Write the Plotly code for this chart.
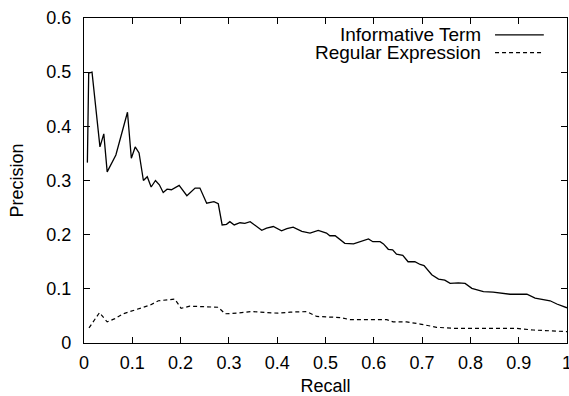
import plotly.graph_objects as go

# Informative Term (solid)
it_recall = [0.007, 0.0097, 0.0166, 0.033, 0.041, 0.048, 0.066, 0.090, 0.098, 0.106,
             0.114, 0.123, 0.131, 0.139, 0.148, 0.156, 0.164, 0.172, 0.181, 0.197,
             0.213, 0.230, 0.240, 0.254, 0.269, 0.278, 0.286, 0.295, 0.302, 0.311,
             0.323, 0.333, 0.344, 0.368, 0.378, 0.392, 0.409, 0.420, 0.433, 0.451,
             0.468, 0.485, 0.502, 0.509, 0.520, 0.540, 0.558, 0.571, 0.589, 0.598,
             0.613, 0.620, 0.630, 0.639, 0.647, 0.660, 0.671, 0.685, 0.696, 0.704,
             0.720, 0.734, 0.747, 0.758, 0.775, 0.789, 0.803, 0.827, 0.847, 0.882,
             0.917, 0.934, 0.965, 0.979, 1.0]
it_precision = [0.333, 0.498, 0.500, 0.362, 0.386, 0.316, 0.347, 0.426, 0.341, 0.362,
                0.351, 0.300, 0.307, 0.288, 0.300, 0.292, 0.278, 0.284, 0.283, 0.291,
                0.272, 0.286, 0.286, 0.258, 0.261, 0.257, 0.218, 0.219, 0.224, 0.218,
                0.222, 0.221, 0.224, 0.208, 0.212, 0.215, 0.207, 0.211, 0.214, 0.206,
                0.203, 0.208, 0.203, 0.198, 0.198, 0.184, 0.183, 0.187, 0.192, 0.187,
                0.187, 0.183, 0.173, 0.172, 0.164, 0.162, 0.150, 0.150, 0.145, 0.143,
                0.126, 0.118, 0.116, 0.110, 0.111, 0.110, 0.101, 0.095, 0.094, 0.090,
                0.090, 0.083, 0.078, 0.072, 0.065]

# Regular Expression (dashed)
re_recall = [0.0104, 0.032, 0.048, 0.064, 0.081, 0.116, 0.137, 0.154, 0.171, 0.188,
             0.201, 0.219, 0.247, 0.278, 0.292, 0.316, 0.347, 0.378, 0.402, 0.427,
             0.461, 0.482, 0.530, 0.551, 0.627, 0.640, 0.668, 0.696, 0.730, 0.765,
             0.896, 0.930, 1.0]
re_precision = [0.028, 0.056, 0.039, 0.045, 0.054, 0.064, 0.070, 0.078, 0.080, 0.081,
                0.064, 0.068, 0.067, 0.066, 0.054, 0.055, 0.058, 0.056, 0.055, 0.057,
                0.058, 0.049, 0.047, 0.043, 0.043, 0.039, 0.039, 0.035, 0.029, 0.027,
                0.027, 0.024, 0.021]

x_ticks = [0, 0.1, 0.2, 0.3, 0.4, 0.5, 0.6, 0.7, 0.8, 0.9, 1]
x_tick_labels = ["0", "0.1", "0.2", "0.3", "0.4", "0.5", "0.6", "0.7", "0.8", "0.9", "1"]
y_ticks = [0, 0.1, 0.2, 0.3, 0.4, 0.5, 0.6]
y_tick_labels = ["0", "0.1", "0.2", "0.3", "0.4", "0.5", "0.6"]

series_names = ["Informative Term", "Regular Expression"]
dash_styles = ["solid", "4px,3px"]

FONT = "Liberation Sans, Arial, sans-serif"
FS = 18
FS_KEY = 19
fig = go.Figure()
fig.add_trace(go.Scatter(x=it_recall, y=it_precision, mode="lines", name=series_names[0],
                         line=dict(color="black", width=1.3, dash=dash_styles[0])))
fig.add_trace(go.Scatter(x=re_recall, y=re_precision, mode="lines", name=series_names[1],
                         line=dict(color="black", width=1.2, dash=dash_styles[1])))

# gnuplot-style key: text right-aligned, sample line on the right
key_rows = [0.569, 0.536]
for name, dash, ky in zip(series_names, dash_styles, key_rows):
    fig.add_annotation(x=0.824, y=ky, xref="x", yref="y", text=name, showarrow=False,
                       xanchor="right", yanchor="middle", borderpad=0,
                       font=dict(size=FS_KEY, color="black", family=FONT))
    fig.add_shape(type="line", xref="x", yref="y", x0=0.851, x1=0.952, y0=ky, y1=ky,
                  line=dict(color="black", width=1.2, dash=dash))

axis_common = dict(showline=True, linecolor="black", linewidth=1.3, mirror="ticks",
                   ticks="inside", ticklen=6, tickcolor="black", tickwidth=1,
                   showgrid=False, zeroline=False, automargin=False,
                   ticklabeloverflow="allow",
                   tickfont=dict(size=FS, color="black", family=FONT))

fig.update_layout(
    width=569, height=396,
    margin=dict(l=84, r=2, t=18, b=53),
    paper_bgcolor="white", plot_bgcolor="white",
    showlegend=False,
    font=dict(family=FONT, size=FS, color="black"),
    xaxis=dict(range=[0, 1], tickvals=x_ticks, ticktext=x_tick_labels,
               title=dict(text="Recall", font=dict(size=FS), standoff=8),
               ticklabelstandoff=3, **axis_common),
    yaxis=dict(range=[0, 0.6], tickvals=y_ticks, ticktext=y_tick_labels,
               title=dict(text="Precision", font=dict(size=FS), standoff=17),
               ticklabelstandoff=8, **axis_common),
)

fig.write_html("out.html", config={"displayModeBar": False},
               post_script="document.body.style.margin='0px';")
